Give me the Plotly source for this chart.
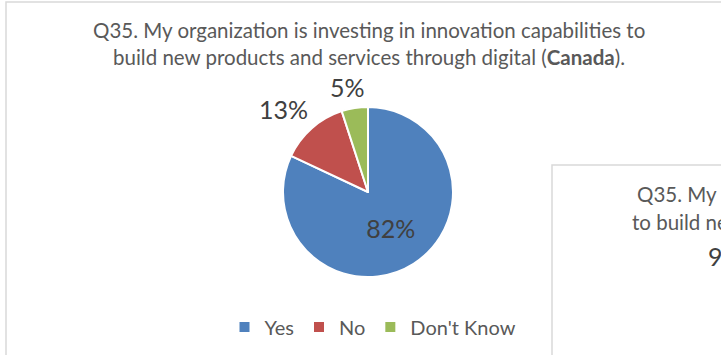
import math
import plotly.graph_objects as go

# Survey responses for Q35 (Canada)
labels = ["Yes", "No", "Don't Know"]
values = [82, 13, 5]
colors = ["#4F81BD", "#C0504D", "#9BBB59"]
inside_label = [True, False, False]

title_lines = [
    "Q35. My organization is investing in innovation capabilities to",
    "build new products and services through digital (<b>Canada</b>).",
]
# Neighbouring chart (next country) that overlaps on the right
side_title_lines = ["Q35. My organization is investing", "to build new products"]
side_label = "9"

W, H = 721, 355
FONT = "Lato, 'Open Sans', sans-serif"
GRID = "#D9D9D9"
TEXT = "#595959"
LABEL = "#404040"
LABEL_SIZE = 25

# pie geometry in pixels
PIE_L, PIE_R, PIE_T, PIE_B = 283, 453, 107, 277
CX, CY = (PIE_L + PIE_R) / 2, (PIE_T + PIE_B) / 2
RADIUS = (PIE_R - PIE_L) / 2


def px(x):
    return x / W


def py(y):
    return 1 - y / H


def clamp(v):
    return max(-1.0, min(1.0, v))


fig = go.Figure()
fig.add_trace(
    go.Pie(
        labels=labels,
        values=values,
        sort=False,
        direction="clockwise",
        rotation=0,
        marker=dict(colors=colors, line=dict(color="white", width=2)),
        texttemplate=["%{percent:.0%}" if inside else "" for inside in inside_label],
        textposition=["inside" if inside else "none" for inside in inside_label],
        insidetextorientation="horizontal",
        textfont=dict(family=FONT, size=LABEL_SIZE, color=LABEL),
        domain=dict(x=[px(PIE_L), px(PIE_R)], y=[py(PIE_B), py(PIE_T)]),
        hoverinfo="label+percent",
    )
)

annotations = []

# outside data labels: label box sits just beyond the rim along the slice's mid-angle
total = sum(values)
start = 0.0
for value, inside in zip(values, inside_label):
    mid = (start + value / 2) / total * 2 * math.pi
    start += value
    if inside:
        continue
    text = f"{round(100 * value / total)}%"
    dx, dy = math.sin(mid), -math.cos(mid)
    w = len(text) * 0.62 * LABEL_SIZE
    h = 26
    d = RADIUS + 8
    lx = CX + d * dx + clamp(2.5 * dx) * w / 2
    ly = CY + d * dy + clamp(2.5 * dy) * h / 2
    annotations.append(dict(
        text=text, xref="paper", yref="paper", x=px(lx), y=py(ly),
        xanchor="center", yanchor="middle", showarrow=False,
        font=dict(family=FONT, size=LABEL_SIZE, color=LABEL),
    ))

shapes = [
    # outer chart frame
    dict(type="rect", xref="paper", yref="paper",
         x0=px(6), y0=py(H + 20), x1=px(W + 20), y1=py(2),
         line=dict(color=GRID, width=1.5), fillcolor="rgba(0,0,0,0)", layer="below"),
    # neighbouring chart frame
    dict(type="rect", xref="paper", yref="paper",
         x0=px(552), y0=py(H + 20), x1=px(W + 20), y1=py(165),
         line=dict(color=GRID, width=1.5), fillcolor="white", layer="above"),
]

for i, line in enumerate(title_lines):
    annotations.append(dict(
        text=line, xref="paper", yref="paper", x=px(369), y=py(30 + 27 * i),
        xanchor="center", yanchor="middle", showarrow=False,
        font=dict(family=FONT, size=20.5, color=TEXT),
    ))
for i, line in enumerate(side_title_lines):
    annotations.append(dict(
        text=line, xref="paper", yref="paper", x=px(635 - 5 * i), y=py(194 + 28 * i),
        xanchor="left", yanchor="middle", showarrow=False,
        font=dict(family=FONT, size=20.5, color=TEXT),
    ))
annotations.append(dict(
    text=side_label, xref="paper", yref="paper", x=px(706), y=py(256),
    xanchor="left", yanchor="middle", showarrow=False,
    font=dict(family=FONT, size=LABEL_SIZE, color=LABEL),
))

fig.update_layout(
    width=W,
    height=H,
    margin=dict(l=0, r=0, t=0, b=0),
    paper_bgcolor="white",
    plot_bgcolor="white",
    font=dict(family=FONT, color=TEXT),
    showlegend=True,
    legend=dict(
        orientation="h", x=px(373), xanchor="center", y=py(327), yanchor="middle",
        font=dict(family=FONT, size=20, color=TEXT), traceorder="normal",
    ),
    shapes=shapes,
    annotations=annotations,
)

fig.write_html("out.html")
